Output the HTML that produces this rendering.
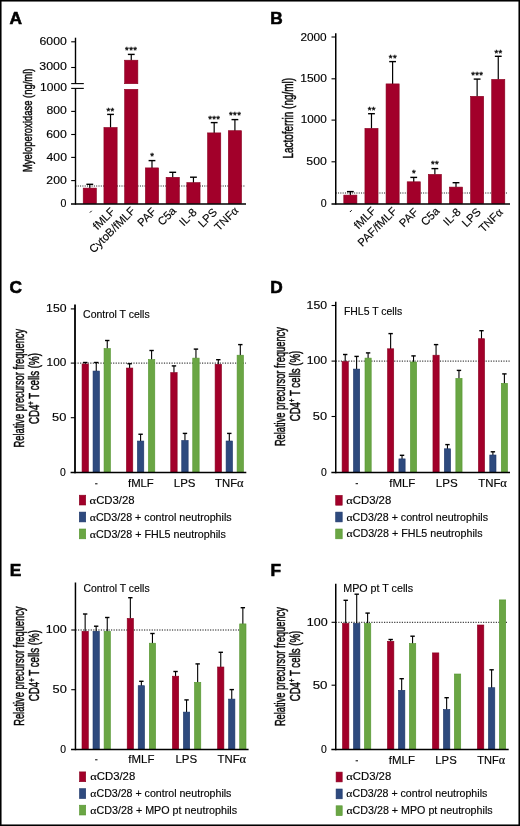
<!DOCTYPE html>
<html><head><meta charset="utf-8"><title>Figure</title>
<style>
html,body{margin:0;padding:0;background:#fff}
svg{display:block;will-change:transform}
text{font-family:"Liberation Sans", sans-serif;fill:#000}
.vt{stroke:#111;stroke-width:0.5px}
.st{stroke:#111;stroke-width:0.15px}
.bd{stroke:#000;stroke-width:0.6px}
</style></head>
<body>
<svg width="520" height="826" viewBox="0 0 520 826">
<rect x="0" y="0" width="520" height="826" fill="#fff"/>
<line x1="75.50" y1="186.00" x2="245.30" y2="186.00" stroke="#111" stroke-width="1.0" stroke-dasharray="1.0 1.3"/>
<line x1="335.75" y1="193.00" x2="508.00" y2="193.00" stroke="#111" stroke-width="1.0" stroke-dasharray="1.0 1.3"/>
<line x1="75.00" y1="363.10" x2="246.00" y2="363.10" stroke="#111" stroke-width="1.0" stroke-dasharray="1.2 1.34"/>
<line x1="335.75" y1="361.10" x2="510.00" y2="361.10" stroke="#111" stroke-width="1.0" stroke-dasharray="1.2 1.34"/>
<line x1="75.45" y1="630.00" x2="246.00" y2="630.00" stroke="#111" stroke-width="1.0" stroke-dasharray="1.2 1.34"/>
<line x1="335.75" y1="622.30" x2="507.00" y2="622.30" stroke="#111" stroke-width="1.0" stroke-dasharray="1.2 1.34"/>
<line x1="71.20" y1="41.80" x2="75.50" y2="41.80" stroke="#000" stroke-width="1.1"/>
<line x1="71.20" y1="67.50" x2="75.50" y2="67.50" stroke="#000" stroke-width="1.1"/>
<line x1="71.20" y1="111.40" x2="75.50" y2="111.40" stroke="#000" stroke-width="1.1"/>
<line x1="71.20" y1="134.50" x2="75.50" y2="134.50" stroke="#000" stroke-width="1.1"/>
<line x1="71.20" y1="157.40" x2="75.50" y2="157.40" stroke="#000" stroke-width="1.1"/>
<line x1="71.20" y1="180.60" x2="75.50" y2="180.60" stroke="#000" stroke-width="1.1"/>
<line x1="71.20" y1="83.60" x2="83.80" y2="83.60" stroke="#000" stroke-width="1.1"/>
<line x1="71.20" y1="88.40" x2="83.80" y2="88.40" stroke="#000" stroke-width="1.1"/>
<line x1="89.80" y1="188.30" x2="89.80" y2="184.30" stroke="#000" stroke-width="1.2"/>
<line x1="86.40" y1="184.30" x2="93.20" y2="184.30" stroke="#000" stroke-width="1.4"/>
<rect x="83.20" y="188.10" width="13.20" height="15.50" fill="#a2002a" stroke="#88001f" stroke-width="0.6"/>
<line x1="110.53" y1="127.70" x2="110.53" y2="114.40" stroke="#000" stroke-width="1.2"/>
<line x1="107.13" y1="114.40" x2="113.93" y2="114.40" stroke="#000" stroke-width="1.4"/>
<rect x="103.93" y="127.50" width="13.20" height="76.10" fill="#a2002a" stroke="#88001f" stroke-width="0.6"/>
<line x1="131.26" y1="60.40" x2="131.26" y2="54.40" stroke="#000" stroke-width="1.2"/>
<line x1="127.86" y1="54.40" x2="134.66" y2="54.40" stroke="#000" stroke-width="1.4"/>
<rect x="124.66" y="60.20" width="13.20" height="23.50" fill="#a2002a" stroke="#88001f" stroke-width="0.6"/>
<rect x="124.66" y="89.30" width="13.20" height="114.30" fill="#a2002a" stroke="#88001f" stroke-width="0.6"/>
<line x1="151.99" y1="168.10" x2="151.99" y2="160.60" stroke="#000" stroke-width="1.2"/>
<line x1="148.59" y1="160.60" x2="155.39" y2="160.60" stroke="#000" stroke-width="1.4"/>
<rect x="145.39" y="167.90" width="13.20" height="35.70" fill="#a2002a" stroke="#88001f" stroke-width="0.6"/>
<line x1="172.72" y1="177.50" x2="172.72" y2="172.30" stroke="#000" stroke-width="1.2"/>
<line x1="169.32" y1="172.30" x2="176.12" y2="172.30" stroke="#000" stroke-width="1.4"/>
<rect x="166.12" y="177.30" width="13.20" height="26.30" fill="#a2002a" stroke="#88001f" stroke-width="0.6"/>
<line x1="193.45" y1="182.80" x2="193.45" y2="177.20" stroke="#000" stroke-width="1.2"/>
<line x1="190.05" y1="177.20" x2="196.85" y2="177.20" stroke="#000" stroke-width="1.4"/>
<rect x="186.85" y="182.60" width="13.20" height="21.00" fill="#a2002a" stroke="#88001f" stroke-width="0.6"/>
<line x1="214.18" y1="133.10" x2="214.18" y2="122.60" stroke="#000" stroke-width="1.2"/>
<line x1="210.78" y1="122.60" x2="217.58" y2="122.60" stroke="#000" stroke-width="1.4"/>
<rect x="207.58" y="132.90" width="13.20" height="70.70" fill="#a2002a" stroke="#88001f" stroke-width="0.6"/>
<line x1="234.91" y1="130.90" x2="234.91" y2="119.60" stroke="#000" stroke-width="1.2"/>
<line x1="231.51" y1="119.60" x2="238.31" y2="119.60" stroke="#000" stroke-width="1.4"/>
<rect x="228.31" y="130.70" width="13.20" height="72.90" fill="#a2002a" stroke="#88001f" stroke-width="0.6"/>
<line x1="331.50" y1="37.00" x2="335.75" y2="37.00" stroke="#000" stroke-width="1.1"/>
<line x1="331.50" y1="78.80" x2="335.75" y2="78.80" stroke="#000" stroke-width="1.1"/>
<line x1="331.50" y1="120.10" x2="335.75" y2="120.10" stroke="#000" stroke-width="1.1"/>
<line x1="331.50" y1="161.80" x2="335.75" y2="161.80" stroke="#000" stroke-width="1.1"/>
<line x1="350.35" y1="195.30" x2="350.35" y2="191.60" stroke="#000" stroke-width="1.2"/>
<line x1="346.95" y1="191.60" x2="353.75" y2="191.60" stroke="#000" stroke-width="1.4"/>
<rect x="343.80" y="195.10" width="13.10" height="8.50" fill="#a2002a" stroke="#88001f" stroke-width="0.6"/>
<line x1="371.48" y1="128.60" x2="371.48" y2="113.70" stroke="#000" stroke-width="1.2"/>
<line x1="368.08" y1="113.70" x2="374.88" y2="113.70" stroke="#000" stroke-width="1.4"/>
<rect x="364.93" y="128.40" width="13.10" height="75.20" fill="#a2002a" stroke="#88001f" stroke-width="0.6"/>
<line x1="392.61" y1="84.10" x2="392.61" y2="61.60" stroke="#000" stroke-width="1.2"/>
<line x1="389.21" y1="61.60" x2="396.01" y2="61.60" stroke="#000" stroke-width="1.4"/>
<rect x="386.06" y="83.90" width="13.10" height="119.70" fill="#a2002a" stroke="#88001f" stroke-width="0.6"/>
<line x1="413.74" y1="182.00" x2="413.74" y2="177.40" stroke="#000" stroke-width="1.2"/>
<line x1="410.34" y1="177.40" x2="417.14" y2="177.40" stroke="#000" stroke-width="1.4"/>
<rect x="407.19" y="181.80" width="13.10" height="21.80" fill="#a2002a" stroke="#88001f" stroke-width="0.6"/>
<line x1="434.87" y1="174.60" x2="434.87" y2="168.60" stroke="#000" stroke-width="1.2"/>
<line x1="431.47" y1="168.60" x2="438.27" y2="168.60" stroke="#000" stroke-width="1.4"/>
<rect x="428.32" y="174.40" width="13.10" height="29.20" fill="#a2002a" stroke="#88001f" stroke-width="0.6"/>
<line x1="456.00" y1="187.30" x2="456.00" y2="182.70" stroke="#000" stroke-width="1.2"/>
<line x1="452.60" y1="182.70" x2="459.40" y2="182.70" stroke="#000" stroke-width="1.4"/>
<rect x="449.45" y="187.10" width="13.10" height="16.50" fill="#a2002a" stroke="#88001f" stroke-width="0.6"/>
<line x1="477.13" y1="96.50" x2="477.13" y2="79.10" stroke="#000" stroke-width="1.2"/>
<line x1="473.73" y1="79.10" x2="480.53" y2="79.10" stroke="#000" stroke-width="1.4"/>
<rect x="470.58" y="96.30" width="13.10" height="107.30" fill="#a2002a" stroke="#88001f" stroke-width="0.6"/>
<line x1="498.26" y1="79.60" x2="498.26" y2="56.30" stroke="#000" stroke-width="1.2"/>
<line x1="494.86" y1="56.30" x2="501.66" y2="56.30" stroke="#000" stroke-width="1.4"/>
<rect x="491.71" y="79.40" width="13.10" height="124.20" fill="#a2002a" stroke="#88001f" stroke-width="0.6"/>
<line x1="70.80" y1="308.90" x2="75.00" y2="308.90" stroke="#000" stroke-width="1.1"/>
<line x1="70.80" y1="363.10" x2="75.00" y2="363.10" stroke="#000" stroke-width="1.1"/>
<line x1="70.80" y1="417.70" x2="75.00" y2="417.70" stroke="#000" stroke-width="1.1"/>
<line x1="85.25" y1="364.25" x2="85.25" y2="362.50" stroke="#000" stroke-width="1.1"/>
<line x1="83.05" y1="362.50" x2="87.45" y2="362.50" stroke="#000" stroke-width="1.4"/>
<rect x="82.05" y="364.05" width="6.40" height="108.15" fill="#a2002a" stroke="#88001f" stroke-width="0.6"/>
<line x1="96.25" y1="371.25" x2="96.25" y2="362.50" stroke="#000" stroke-width="1.1"/>
<line x1="94.05" y1="362.50" x2="98.45" y2="362.50" stroke="#000" stroke-width="1.4"/>
<rect x="93.05" y="371.05" width="6.40" height="101.15" fill="#2e4a7e" stroke="#1c3568" stroke-width="0.6"/>
<line x1="107.25" y1="348.75" x2="107.25" y2="340.50" stroke="#000" stroke-width="1.1"/>
<line x1="105.05" y1="340.50" x2="109.45" y2="340.50" stroke="#000" stroke-width="1.4"/>
<rect x="104.05" y="348.55" width="6.40" height="123.65" fill="#6aa644" stroke="#559530" stroke-width="0.6"/>
<line x1="129.60" y1="368.25" x2="129.60" y2="363.75" stroke="#000" stroke-width="1.1"/>
<line x1="127.40" y1="363.75" x2="131.80" y2="363.75" stroke="#000" stroke-width="1.4"/>
<rect x="126.40" y="368.05" width="6.40" height="104.15" fill="#a2002a" stroke="#88001f" stroke-width="0.6"/>
<line x1="140.60" y1="441.25" x2="140.60" y2="434.25" stroke="#000" stroke-width="1.1"/>
<line x1="138.40" y1="434.25" x2="142.80" y2="434.25" stroke="#000" stroke-width="1.4"/>
<rect x="137.40" y="441.05" width="6.40" height="31.15" fill="#2e4a7e" stroke="#1c3568" stroke-width="0.6"/>
<line x1="151.60" y1="359.75" x2="151.60" y2="350.50" stroke="#000" stroke-width="1.1"/>
<line x1="149.40" y1="350.50" x2="153.80" y2="350.50" stroke="#000" stroke-width="1.4"/>
<rect x="148.40" y="359.55" width="6.40" height="112.65" fill="#6aa644" stroke="#559530" stroke-width="0.6"/>
<line x1="173.95" y1="372.80" x2="173.95" y2="365.90" stroke="#000" stroke-width="1.1"/>
<line x1="171.75" y1="365.90" x2="176.15" y2="365.90" stroke="#000" stroke-width="1.4"/>
<rect x="170.75" y="372.60" width="6.40" height="99.60" fill="#a2002a" stroke="#88001f" stroke-width="0.6"/>
<line x1="184.95" y1="440.70" x2="184.95" y2="433.40" stroke="#000" stroke-width="1.1"/>
<line x1="182.75" y1="433.40" x2="187.15" y2="433.40" stroke="#000" stroke-width="1.4"/>
<rect x="181.75" y="440.50" width="6.40" height="31.70" fill="#2e4a7e" stroke="#1c3568" stroke-width="0.6"/>
<line x1="195.95" y1="358.30" x2="195.95" y2="349.10" stroke="#000" stroke-width="1.1"/>
<line x1="193.75" y1="349.10" x2="198.15" y2="349.10" stroke="#000" stroke-width="1.4"/>
<rect x="192.75" y="358.10" width="6.40" height="114.10" fill="#6aa644" stroke="#559530" stroke-width="0.6"/>
<line x1="218.30" y1="364.50" x2="218.30" y2="359.70" stroke="#000" stroke-width="1.1"/>
<line x1="216.10" y1="359.70" x2="220.50" y2="359.70" stroke="#000" stroke-width="1.4"/>
<rect x="215.10" y="364.30" width="6.40" height="107.90" fill="#a2002a" stroke="#88001f" stroke-width="0.6"/>
<line x1="229.30" y1="441.20" x2="229.30" y2="433.40" stroke="#000" stroke-width="1.1"/>
<line x1="227.10" y1="433.40" x2="231.50" y2="433.40" stroke="#000" stroke-width="1.4"/>
<rect x="226.10" y="441.00" width="6.40" height="31.20" fill="#2e4a7e" stroke="#1c3568" stroke-width="0.6"/>
<line x1="240.30" y1="355.40" x2="240.30" y2="344.60" stroke="#000" stroke-width="1.1"/>
<line x1="238.10" y1="344.60" x2="242.50" y2="344.60" stroke="#000" stroke-width="1.4"/>
<rect x="237.10" y="355.20" width="6.40" height="117.00" fill="#6aa644" stroke="#559530" stroke-width="0.6"/>
<line x1="331.55" y1="305.50" x2="335.75" y2="305.50" stroke="#000" stroke-width="1.1"/>
<line x1="331.55" y1="361.10" x2="335.75" y2="361.10" stroke="#000" stroke-width="1.1"/>
<line x1="331.55" y1="416.50" x2="335.75" y2="416.50" stroke="#000" stroke-width="1.1"/>
<line x1="345.20" y1="361.80" x2="345.20" y2="354.50" stroke="#000" stroke-width="1.1"/>
<line x1="343.00" y1="354.50" x2="347.40" y2="354.50" stroke="#000" stroke-width="1.4"/>
<rect x="342.10" y="361.60" width="6.20" height="110.60" fill="#a2002a" stroke="#88001f" stroke-width="0.6"/>
<line x1="356.60" y1="369.30" x2="356.60" y2="356.40" stroke="#000" stroke-width="1.1"/>
<line x1="354.40" y1="356.40" x2="358.80" y2="356.40" stroke="#000" stroke-width="1.4"/>
<rect x="353.50" y="369.10" width="6.20" height="103.10" fill="#2e4a7e" stroke="#1c3568" stroke-width="0.6"/>
<line x1="368.10" y1="358.30" x2="368.10" y2="352.90" stroke="#000" stroke-width="1.1"/>
<line x1="365.90" y1="352.90" x2="370.30" y2="352.90" stroke="#000" stroke-width="1.4"/>
<rect x="365.00" y="358.10" width="6.20" height="114.10" fill="#6aa644" stroke="#559530" stroke-width="0.6"/>
<line x1="390.63" y1="349.00" x2="390.63" y2="333.60" stroke="#000" stroke-width="1.1"/>
<line x1="388.43" y1="333.60" x2="392.83" y2="333.60" stroke="#000" stroke-width="1.4"/>
<rect x="387.53" y="348.80" width="6.20" height="123.40" fill="#a2002a" stroke="#88001f" stroke-width="0.6"/>
<line x1="402.03" y1="459.10" x2="402.03" y2="455.30" stroke="#000" stroke-width="1.1"/>
<line x1="399.83" y1="455.30" x2="404.23" y2="455.30" stroke="#000" stroke-width="1.4"/>
<rect x="398.93" y="458.90" width="6.20" height="13.30" fill="#2e4a7e" stroke="#1c3568" stroke-width="0.6"/>
<line x1="413.53" y1="362.20" x2="413.53" y2="355.90" stroke="#000" stroke-width="1.1"/>
<line x1="411.33" y1="355.90" x2="415.73" y2="355.90" stroke="#000" stroke-width="1.4"/>
<rect x="410.43" y="362.00" width="6.20" height="110.20" fill="#6aa644" stroke="#559530" stroke-width="0.6"/>
<line x1="436.06" y1="355.40" x2="436.06" y2="344.60" stroke="#000" stroke-width="1.1"/>
<line x1="433.86" y1="344.60" x2="438.26" y2="344.60" stroke="#000" stroke-width="1.4"/>
<rect x="432.96" y="355.20" width="6.20" height="117.00" fill="#a2002a" stroke="#88001f" stroke-width="0.6"/>
<line x1="447.46" y1="449.00" x2="447.46" y2="444.60" stroke="#000" stroke-width="1.1"/>
<line x1="445.26" y1="444.60" x2="449.66" y2="444.60" stroke="#000" stroke-width="1.4"/>
<rect x="444.36" y="448.80" width="6.20" height="23.40" fill="#2e4a7e" stroke="#1c3568" stroke-width="0.6"/>
<line x1="458.96" y1="378.60" x2="458.96" y2="370.40" stroke="#000" stroke-width="1.1"/>
<line x1="456.76" y1="370.40" x2="461.16" y2="370.40" stroke="#000" stroke-width="1.4"/>
<rect x="455.86" y="378.40" width="6.20" height="93.80" fill="#6aa644" stroke="#559530" stroke-width="0.6"/>
<line x1="481.49" y1="338.90" x2="481.49" y2="330.70" stroke="#000" stroke-width="1.1"/>
<line x1="479.29" y1="330.70" x2="483.69" y2="330.70" stroke="#000" stroke-width="1.4"/>
<rect x="478.39" y="338.70" width="6.20" height="133.50" fill="#a2002a" stroke="#88001f" stroke-width="0.6"/>
<line x1="492.89" y1="455.20" x2="492.89" y2="451.80" stroke="#000" stroke-width="1.1"/>
<line x1="490.69" y1="451.80" x2="495.09" y2="451.80" stroke="#000" stroke-width="1.4"/>
<rect x="489.79" y="455.00" width="6.20" height="17.20" fill="#2e4a7e" stroke="#1c3568" stroke-width="0.6"/>
<line x1="504.39" y1="383.50" x2="504.39" y2="373.90" stroke="#000" stroke-width="1.1"/>
<line x1="502.19" y1="373.90" x2="506.59" y2="373.90" stroke="#000" stroke-width="1.4"/>
<rect x="501.29" y="383.30" width="6.20" height="88.90" fill="#6aa644" stroke="#559530" stroke-width="0.6"/>
<line x1="71.25" y1="630.00" x2="75.45" y2="630.00" stroke="#000" stroke-width="1.1"/>
<line x1="71.25" y1="689.70" x2="75.45" y2="689.70" stroke="#000" stroke-width="1.1"/>
<line x1="85.15" y1="631.50" x2="85.15" y2="614.00" stroke="#000" stroke-width="1.1"/>
<line x1="82.95" y1="614.00" x2="87.35" y2="614.00" stroke="#000" stroke-width="1.4"/>
<rect x="82.00" y="631.30" width="6.30" height="117.90" fill="#a2002a" stroke="#88001f" stroke-width="0.6"/>
<line x1="96.15" y1="631.50" x2="96.15" y2="626.20" stroke="#000" stroke-width="1.1"/>
<line x1="93.95" y1="626.20" x2="98.35" y2="626.20" stroke="#000" stroke-width="1.4"/>
<rect x="93.00" y="631.30" width="6.30" height="117.90" fill="#2e4a7e" stroke="#1c3568" stroke-width="0.6"/>
<line x1="107.25" y1="631.50" x2="107.25" y2="617.50" stroke="#000" stroke-width="1.1"/>
<line x1="105.05" y1="617.50" x2="109.45" y2="617.50" stroke="#000" stroke-width="1.4"/>
<rect x="104.10" y="631.30" width="6.30" height="117.90" fill="#6aa644" stroke="#559530" stroke-width="0.6"/>
<line x1="130.35" y1="618.60" x2="130.35" y2="597.70" stroke="#000" stroke-width="1.1"/>
<line x1="128.15" y1="597.70" x2="132.55" y2="597.70" stroke="#000" stroke-width="1.4"/>
<rect x="127.20" y="618.40" width="6.30" height="130.80" fill="#a2002a" stroke="#88001f" stroke-width="0.6"/>
<line x1="141.35" y1="685.90" x2="141.35" y2="681.30" stroke="#000" stroke-width="1.1"/>
<line x1="139.15" y1="681.30" x2="143.55" y2="681.30" stroke="#000" stroke-width="1.4"/>
<rect x="138.20" y="685.70" width="6.30" height="63.50" fill="#2e4a7e" stroke="#1c3568" stroke-width="0.6"/>
<line x1="152.45" y1="643.40" x2="152.45" y2="633.50" stroke="#000" stroke-width="1.1"/>
<line x1="150.25" y1="633.50" x2="154.65" y2="633.50" stroke="#000" stroke-width="1.4"/>
<rect x="149.30" y="643.20" width="6.30" height="106.00" fill="#6aa644" stroke="#559530" stroke-width="0.6"/>
<line x1="175.55" y1="676.40" x2="175.55" y2="671.50" stroke="#000" stroke-width="1.1"/>
<line x1="173.35" y1="671.50" x2="177.75" y2="671.50" stroke="#000" stroke-width="1.4"/>
<rect x="172.40" y="676.20" width="6.30" height="73.00" fill="#a2002a" stroke="#88001f" stroke-width="0.6"/>
<line x1="186.55" y1="712.30" x2="186.55" y2="699.90" stroke="#000" stroke-width="1.1"/>
<line x1="184.35" y1="699.90" x2="188.75" y2="699.90" stroke="#000" stroke-width="1.4"/>
<rect x="183.40" y="712.10" width="6.30" height="37.10" fill="#2e4a7e" stroke="#1c3568" stroke-width="0.6"/>
<line x1="197.65" y1="682.50" x2="197.65" y2="663.90" stroke="#000" stroke-width="1.1"/>
<line x1="195.45" y1="663.90" x2="199.85" y2="663.90" stroke="#000" stroke-width="1.4"/>
<rect x="194.50" y="682.30" width="6.30" height="66.90" fill="#6aa644" stroke="#559530" stroke-width="0.6"/>
<line x1="220.75" y1="667.20" x2="220.75" y2="652.30" stroke="#000" stroke-width="1.1"/>
<line x1="218.55" y1="652.30" x2="222.95" y2="652.30" stroke="#000" stroke-width="1.4"/>
<rect x="217.60" y="667.00" width="6.30" height="82.20" fill="#a2002a" stroke="#88001f" stroke-width="0.6"/>
<line x1="231.75" y1="699.30" x2="231.75" y2="689.60" stroke="#000" stroke-width="1.1"/>
<line x1="229.55" y1="689.60" x2="233.95" y2="689.60" stroke="#000" stroke-width="1.4"/>
<rect x="228.60" y="699.10" width="6.30" height="50.10" fill="#2e4a7e" stroke="#1c3568" stroke-width="0.6"/>
<line x1="242.85" y1="624.10" x2="242.85" y2="607.70" stroke="#000" stroke-width="1.1"/>
<line x1="240.65" y1="607.70" x2="245.05" y2="607.70" stroke="#000" stroke-width="1.4"/>
<rect x="239.70" y="623.90" width="6.30" height="125.30" fill="#6aa644" stroke="#559530" stroke-width="0.6"/>
<line x1="331.55" y1="622.30" x2="335.75" y2="622.30" stroke="#000" stroke-width="1.1"/>
<line x1="331.55" y1="685.20" x2="335.75" y2="685.20" stroke="#000" stroke-width="1.1"/>
<line x1="345.70" y1="623.60" x2="345.70" y2="600.30" stroke="#000" stroke-width="1.1"/>
<line x1="343.50" y1="600.30" x2="347.90" y2="600.30" stroke="#000" stroke-width="1.4"/>
<rect x="342.50" y="623.40" width="6.40" height="125.80" fill="#a2002a" stroke="#88001f" stroke-width="0.6"/>
<line x1="356.70" y1="623.60" x2="356.70" y2="594.20" stroke="#000" stroke-width="1.1"/>
<line x1="354.50" y1="594.20" x2="358.90" y2="594.20" stroke="#000" stroke-width="1.4"/>
<rect x="353.50" y="623.40" width="6.40" height="125.80" fill="#2e4a7e" stroke="#1c3568" stroke-width="0.6"/>
<line x1="367.60" y1="623.60" x2="367.60" y2="613.10" stroke="#000" stroke-width="1.1"/>
<line x1="365.40" y1="613.10" x2="369.80" y2="613.10" stroke="#000" stroke-width="1.4"/>
<rect x="364.40" y="623.40" width="6.40" height="125.80" fill="#6aa644" stroke="#559530" stroke-width="0.6"/>
<line x1="390.67" y1="641.50" x2="390.67" y2="639.50" stroke="#000" stroke-width="1.1"/>
<line x1="388.47" y1="639.50" x2="392.87" y2="639.50" stroke="#000" stroke-width="1.4"/>
<rect x="387.47" y="641.30" width="6.40" height="107.90" fill="#a2002a" stroke="#88001f" stroke-width="0.6"/>
<line x1="401.67" y1="690.50" x2="401.67" y2="678.70" stroke="#000" stroke-width="1.1"/>
<line x1="399.47" y1="678.70" x2="403.87" y2="678.70" stroke="#000" stroke-width="1.4"/>
<rect x="398.47" y="690.30" width="6.40" height="58.90" fill="#2e4a7e" stroke="#1c3568" stroke-width="0.6"/>
<line x1="412.57" y1="643.70" x2="412.57" y2="636.20" stroke="#000" stroke-width="1.1"/>
<line x1="410.37" y1="636.20" x2="414.77" y2="636.20" stroke="#000" stroke-width="1.4"/>
<rect x="409.37" y="643.50" width="6.40" height="105.70" fill="#6aa644" stroke="#559530" stroke-width="0.6"/>
<rect x="432.44" y="652.90" width="6.40" height="96.30" fill="#a2002a" stroke="#88001f" stroke-width="0.6"/>
<line x1="446.64" y1="709.70" x2="446.64" y2="697.70" stroke="#000" stroke-width="1.1"/>
<line x1="444.44" y1="697.70" x2="448.84" y2="697.70" stroke="#000" stroke-width="1.4"/>
<rect x="443.44" y="709.50" width="6.40" height="39.70" fill="#2e4a7e" stroke="#1c3568" stroke-width="0.6"/>
<rect x="454.34" y="674.00" width="6.40" height="75.20" fill="#6aa644" stroke="#559530" stroke-width="0.6"/>
<rect x="477.41" y="625.00" width="6.40" height="124.20" fill="#a2002a" stroke="#88001f" stroke-width="0.6"/>
<line x1="491.61" y1="687.90" x2="491.61" y2="669.80" stroke="#000" stroke-width="1.1"/>
<line x1="489.41" y1="669.80" x2="493.81" y2="669.80" stroke="#000" stroke-width="1.4"/>
<rect x="488.41" y="687.70" width="6.40" height="61.50" fill="#2e4a7e" stroke="#1c3568" stroke-width="0.6"/>
<rect x="499.31" y="599.90" width="6.40" height="149.30" fill="#6aa644" stroke="#559530" stroke-width="0.6"/>
<rect x="79.30" y="495.20" width="6.40" height="9.80" fill="#a2002a" stroke="#88001f" stroke-width="0.6"/>
<rect x="79.30" y="512.10" width="6.40" height="9.80" fill="#2e4a7e" stroke="#1c3568" stroke-width="0.6"/>
<rect x="79.30" y="529.00" width="6.40" height="9.80" fill="#6aa644" stroke="#559530" stroke-width="0.6"/>
<rect x="335.70" y="495.40" width="6.50" height="9.80" fill="#a2002a" stroke="#88001f" stroke-width="0.6"/>
<rect x="335.70" y="512.10" width="6.50" height="9.80" fill="#2e4a7e" stroke="#1c3568" stroke-width="0.6"/>
<rect x="335.70" y="529.00" width="6.50" height="9.80" fill="#6aa644" stroke="#559530" stroke-width="0.6"/>
<rect x="79.50" y="771.90" width="6.20" height="9.80" fill="#a2002a" stroke="#88001f" stroke-width="0.6"/>
<rect x="79.50" y="788.70" width="6.20" height="9.80" fill="#2e4a7e" stroke="#1c3568" stroke-width="0.6"/>
<rect x="79.50" y="805.20" width="6.20" height="9.80" fill="#6aa644" stroke="#559530" stroke-width="0.6"/>
<rect x="336.10" y="772.10" width="6.10" height="9.80" fill="#a2002a" stroke="#88001f" stroke-width="0.6"/>
<rect x="336.10" y="789.00" width="6.10" height="9.80" fill="#2e4a7e" stroke="#1c3568" stroke-width="0.6"/>
<rect x="336.10" y="805.80" width="6.10" height="9.80" fill="#6aa644" stroke="#559530" stroke-width="0.6"/>
<line x1="95.10" y1="483.80" x2="97.50" y2="483.80" stroke="#000" stroke-width="1.0"/>
<line x1="355.60" y1="483.70" x2="358.00" y2="483.70" stroke="#000" stroke-width="1.0"/>
<line x1="95.10" y1="759.80" x2="97.50" y2="759.80" stroke="#000" stroke-width="1.0"/>
<line x1="355.60" y1="760.80" x2="358.00" y2="760.80" stroke="#000" stroke-width="1.0"/>
<line x1="89.90" y1="212.60" x2="91.70" y2="210.80" stroke="#000" stroke-width="1.0"/>
<line x1="349.90" y1="212.00" x2="351.70" y2="210.20" stroke="#000" stroke-width="1.0"/>
<text x="108.25" y="113.70" font-size="9.5" text-anchor="middle" style="stroke:#111;stroke-width:0.4px">*</text>
<text x="112.35" y="113.70" font-size="9.5" text-anchor="middle" style="stroke:#111;stroke-width:0.4px">*</text>
<text x="126.90" y="53.30" font-size="9.5" text-anchor="middle" style="stroke:#111;stroke-width:0.4px">*</text>
<text x="131.00" y="53.30" font-size="9.5" text-anchor="middle" style="stroke:#111;stroke-width:0.4px">*</text>
<text x="135.10" y="53.30" font-size="9.5" text-anchor="middle" style="stroke:#111;stroke-width:0.4px">*</text>
<text x="152.00" y="159.40" font-size="9.5" text-anchor="middle" style="stroke:#111;stroke-width:0.4px">*</text>
<text x="210.00" y="121.70" font-size="9.5" text-anchor="middle" style="stroke:#111;stroke-width:0.4px">*</text>
<text x="214.10" y="121.70" font-size="9.5" text-anchor="middle" style="stroke:#111;stroke-width:0.4px">*</text>
<text x="218.20" y="121.70" font-size="9.5" text-anchor="middle" style="stroke:#111;stroke-width:0.4px">*</text>
<text x="230.80" y="118.40" font-size="9.5" text-anchor="middle" style="stroke:#111;stroke-width:0.4px">*</text>
<text x="234.90" y="118.40" font-size="9.5" text-anchor="middle" style="stroke:#111;stroke-width:0.4px">*</text>
<text x="239.00" y="118.40" font-size="9.5" text-anchor="middle" style="stroke:#111;stroke-width:0.4px">*</text>
<text x="369.55" y="112.70" font-size="9.5" text-anchor="middle" style="stroke:#111;stroke-width:0.4px">*</text>
<text x="373.65" y="112.70" font-size="9.5" text-anchor="middle" style="stroke:#111;stroke-width:0.4px">*</text>
<text x="390.65" y="60.80" font-size="9.5" text-anchor="middle" style="stroke:#111;stroke-width:0.4px">*</text>
<text x="394.75" y="60.80" font-size="9.5" text-anchor="middle" style="stroke:#111;stroke-width:0.4px">*</text>
<text x="413.80" y="176.30" font-size="9.5" text-anchor="middle" style="stroke:#111;stroke-width:0.4px">*</text>
<text x="432.85" y="167.40" font-size="9.5" text-anchor="middle" style="stroke:#111;stroke-width:0.4px">*</text>
<text x="436.95" y="167.40" font-size="9.5" text-anchor="middle" style="stroke:#111;stroke-width:0.4px">*</text>
<text x="473.00" y="78.20" font-size="9.5" text-anchor="middle" style="stroke:#111;stroke-width:0.4px">*</text>
<text x="477.10" y="78.20" font-size="9.5" text-anchor="middle" style="stroke:#111;stroke-width:0.4px">*</text>
<text x="481.20" y="78.20" font-size="9.5" text-anchor="middle" style="stroke:#111;stroke-width:0.4px">*</text>
<text x="496.25" y="55.70" font-size="9.5" text-anchor="middle" style="stroke:#111;stroke-width:0.4px">*</text>
<text x="500.35" y="55.70" font-size="9.5" text-anchor="middle" style="stroke:#111;stroke-width:0.4px">*</text>
<line x1="75.50" y1="37.70" x2="75.50" y2="83.60" stroke="#000" stroke-width="1.4"/>
<line x1="75.50" y1="88.40" x2="75.50" y2="204.60" stroke="#000" stroke-width="1.4"/>
<line x1="71.00" y1="203.90" x2="246.00" y2="203.90" stroke="#000" stroke-width="1.5"/>
<line x1="335.75" y1="33.20" x2="335.75" y2="204.60" stroke="#000" stroke-width="1.5"/>
<line x1="331.50" y1="203.90" x2="510.00" y2="203.90" stroke="#000" stroke-width="1.5"/>
<line x1="75.00" y1="304.60" x2="75.00" y2="473.20" stroke="#000" stroke-width="1.8"/>
<line x1="70.60" y1="472.50" x2="246.30" y2="472.50" stroke="#000" stroke-width="1.6"/>
<line x1="335.75" y1="301.70" x2="335.75" y2="473.20" stroke="#000" stroke-width="1.5"/>
<line x1="331.35" y1="472.50" x2="510.00" y2="472.50" stroke="#000" stroke-width="1.6"/>
<line x1="75.45" y1="582.50" x2="75.45" y2="750.20" stroke="#000" stroke-width="1.5"/>
<line x1="71.05" y1="749.50" x2="248.60" y2="749.50" stroke="#000" stroke-width="1.6"/>
<line x1="335.75" y1="583.80" x2="335.75" y2="750.20" stroke="#000" stroke-width="1.5"/>
<line x1="331.35" y1="749.50" x2="508.70" y2="749.50" stroke="#000" stroke-width="1.6"/>
<text x="9.44" y="23.50" font-size="17.3" font-weight="bold" class="bd">A</text>
<text x="270.16" y="23.90" font-size="17.3" font-weight="bold" class="bd">B</text>
<text x="9.53" y="293.00" font-size="17.3" font-weight="bold" class="bd">C</text>
<text x="270.27" y="293.00" font-size="17.3" font-weight="bold" class="bd">D</text>
<text x="9.80" y="575.70" font-size="17.3" font-weight="bold" class="bd">E</text>
<text x="270.47" y="575.70" font-size="17.3" font-weight="bold" class="bd">F</text>
<text x="39.56" y="44.70" font-size="10.6" class="st" textLength="27.21" lengthAdjust="spacingAndGlyphs">6000</text>
<text x="39.34" y="70.40" font-size="10.6" class="st" textLength="27.51" lengthAdjust="spacingAndGlyphs">3000</text>
<text x="40.12" y="91.10" font-size="10.6" class="st" textLength="26.81" lengthAdjust="spacingAndGlyphs">1000</text>
<text x="46.41" y="113.90" font-size="10.6" class="st" textLength="20.34" lengthAdjust="spacingAndGlyphs">800</text>
<text x="46.26" y="137.60" font-size="10.6" class="st" textLength="20.48" lengthAdjust="spacingAndGlyphs">600</text>
<text x="46.62" y="160.70" font-size="10.6" class="st" textLength="20.31" lengthAdjust="spacingAndGlyphs">400</text>
<text x="46.36" y="184.10" font-size="10.6" class="st" textLength="20.44" lengthAdjust="spacingAndGlyphs">200</text>
<text x="60.58" y="207.20" font-size="10.6" class="st">0</text>
<text x="300.41" y="40.50" font-size="10.6" class="st" textLength="26.27" lengthAdjust="spacingAndGlyphs">2000</text>
<text x="300.27" y="82.10" font-size="10.6" class="st" textLength="26.68" lengthAdjust="spacingAndGlyphs">1500</text>
<text x="300.74" y="123.40" font-size="10.6" class="st" textLength="26.09" lengthAdjust="spacingAndGlyphs">1000</text>
<text x="306.33" y="165.10" font-size="10.6" class="st" textLength="20.50" lengthAdjust="spacingAndGlyphs">500</text>
<text x="320.78" y="206.60" font-size="10.6" class="st">0</text>
<text x="46.11" y="312.10" font-size="10.4" class="st" textLength="20.45" lengthAdjust="spacingAndGlyphs">150</text>
<text x="46.61" y="366.40" font-size="10.4" class="st" textLength="19.69" lengthAdjust="spacingAndGlyphs">100</text>
<text x="52.02" y="421.00" font-size="10.4" class="st" textLength="14.27" lengthAdjust="spacingAndGlyphs">50</text>
<text x="60.09" y="475.80" font-size="10.4" class="st">0</text>
<text x="306.61" y="308.80" font-size="10.4" class="st" textLength="20.45" lengthAdjust="spacingAndGlyphs">150</text>
<text x="306.71" y="364.40" font-size="10.4" class="st" textLength="20.45" lengthAdjust="spacingAndGlyphs">100</text>
<text x="312.81" y="419.80" font-size="10.4" class="st" textLength="14.21" lengthAdjust="spacingAndGlyphs">50</text>
<text x="320.91" y="475.60" font-size="10.4" class="st">0</text>
<text x="45.82" y="633.30" font-size="10.4" class="st" textLength="20.87" lengthAdjust="spacingAndGlyphs">100</text>
<text x="52.61" y="693.10" font-size="10.4" class="st" textLength="14.21" lengthAdjust="spacingAndGlyphs">50</text>
<text x="60.36" y="752.70" font-size="10.4" class="st">0</text>
<text x="306.82" y="625.60" font-size="10.4" class="st" textLength="20.87" lengthAdjust="spacingAndGlyphs">100</text>
<text x="312.68" y="688.50" font-size="10.4" class="st" textLength="14.80" lengthAdjust="spacingAndGlyphs">50</text>
<text x="321.11" y="752.80" font-size="10.4" class="st">0</text>
<text x="83.07" y="317.70" font-size="10.4" class="st" textLength="66.61" lengthAdjust="spacingAndGlyphs">Control T cells</text>
<text x="343.98" y="314.50" font-size="10.4" class="st" textLength="58.16" lengthAdjust="spacingAndGlyphs">FHL5 T cells</text>
<text x="83.55" y="591.60" font-size="10.4" class="st" textLength="66.06" lengthAdjust="spacingAndGlyphs">Control T cells</text>
<text x="343.24" y="591.50" font-size="10.4" class="st" textLength="69.79" lengthAdjust="spacingAndGlyphs">MPO pt T cells</text>
<text x="127.99" y="486.60" font-size="10.6" class="st" textLength="25.80" lengthAdjust="spacingAndGlyphs">fMLF</text>
<text x="173.80" y="486.60" font-size="10.6" class="st" textLength="21.72" lengthAdjust="spacingAndGlyphs">LPS</text>
<text x="215.12" y="486.60" font-size="10.6" class="st" textLength="28.52" lengthAdjust="spacingAndGlyphs">TNF<tspan font-family="Liberation Serif" font-size="1.1em">&#945;</tspan></text>
<text x="389.28" y="486.60" font-size="10.6" class="st" textLength="26.07" lengthAdjust="spacingAndGlyphs">fMLF</text>
<text x="435.89" y="486.60" font-size="10.6" class="st" textLength="21.90" lengthAdjust="spacingAndGlyphs">LPS</text>
<text x="478.21" y="486.60" font-size="10.6" class="st" textLength="28.73" lengthAdjust="spacingAndGlyphs">TNF<tspan font-family="Liberation Serif" font-size="1.1em">&#945;</tspan></text>
<text x="128.38" y="763.30" font-size="10.6" class="st" textLength="26.07" lengthAdjust="spacingAndGlyphs">fMLF</text>
<text x="175.45" y="763.30" font-size="10.6" class="st" textLength="21.75" lengthAdjust="spacingAndGlyphs">LPS</text>
<text x="217.62" y="763.30" font-size="10.6" class="st" textLength="28.52" lengthAdjust="spacingAndGlyphs">TNF<tspan font-family="Liberation Serif" font-size="1.1em">&#945;</tspan></text>
<text x="388.88" y="763.90" font-size="10.6" class="st" textLength="26.07" lengthAdjust="spacingAndGlyphs">fMLF</text>
<text x="435.26" y="763.90" font-size="10.6" class="st" textLength="21.46" lengthAdjust="spacingAndGlyphs">LPS</text>
<text x="477.23" y="763.90" font-size="10.6" class="st" textLength="27.79" lengthAdjust="spacingAndGlyphs">TNF<tspan font-family="Liberation Serif" font-size="1.1em">&#945;</tspan></text>
<text x="89.58" y="503.90" font-size="10.2" class="st" textLength="45.07" lengthAdjust="spacingAndGlyphs"><tspan font-family="Liberation Serif" font-size="1.1em">&#945;</tspan>CD3/28</text>
<text x="89.72" y="520.70" font-size="10.2" class="st" textLength="141.93" lengthAdjust="spacingAndGlyphs"><tspan font-family="Liberation Serif" font-size="1.1em">&#945;</tspan>CD3/28 + control neutrophils</text>
<text x="89.82" y="537.50" font-size="10.2" class="st" textLength="135.94" lengthAdjust="spacingAndGlyphs"><tspan font-family="Liberation Serif" font-size="1.1em">&#945;</tspan>CD3/28 + FHL5 neutrophils</text>
<text x="346.25" y="503.60" font-size="10.2" class="st" textLength="44.95" lengthAdjust="spacingAndGlyphs"><tspan font-family="Liberation Serif" font-size="1.1em">&#945;</tspan>CD3/28</text>
<text x="346.40" y="520.50" font-size="10.2" class="st" textLength="141.57" lengthAdjust="spacingAndGlyphs"><tspan font-family="Liberation Serif" font-size="1.1em">&#945;</tspan>CD3/28 + control neutrophils</text>
<text x="346.57" y="537.40" font-size="10.2" class="st" textLength="135.97" lengthAdjust="spacingAndGlyphs"><tspan font-family="Liberation Serif" font-size="1.1em">&#945;</tspan>CD3/28 + FHL5 neutrophils</text>
<text x="90.18" y="780.10" font-size="10.2" class="st" textLength="45.07" lengthAdjust="spacingAndGlyphs"><tspan font-family="Liberation Serif" font-size="1.1em">&#945;</tspan>CD3/28</text>
<text x="90.34" y="797.00" font-size="10.2" class="st" textLength="141.12" lengthAdjust="spacingAndGlyphs"><tspan font-family="Liberation Serif" font-size="1.1em">&#945;</tspan>CD3/28 + control neutrophils</text>
<text x="90.34" y="813.80" font-size="10.2" class="st" textLength="146.71" lengthAdjust="spacingAndGlyphs"><tspan font-family="Liberation Serif" font-size="1.1em">&#945;</tspan>CD3/28 + MPO pt neutrophils</text>
<text x="346.25" y="780.30" font-size="10.2" class="st" textLength="44.95" lengthAdjust="spacingAndGlyphs"><tspan font-family="Liberation Serif" font-size="1.1em">&#945;</tspan>CD3/28</text>
<text x="346.34" y="797.20" font-size="10.2" class="st" textLength="140.98" lengthAdjust="spacingAndGlyphs"><tspan font-family="Liberation Serif" font-size="1.1em">&#945;</tspan>CD3/28 + control neutrophils</text>
<text x="346.41" y="814.00" font-size="10.2" class="st" textLength="146.22" lengthAdjust="spacingAndGlyphs"><tspan font-family="Liberation Serif" font-size="1.1em">&#945;</tspan>CD3/28 + MPO pt neutrophils</text>
<text transform="translate(32.30,172.06) rotate(-90)" font-size="13.5" class="vt" textLength="103.51" lengthAdjust="spacingAndGlyphs">Myeloperoxidase (ng/ml)</text>
<text transform="translate(293.00,158.56) rotate(-90)" font-size="14.2" class="vt" textLength="80.56" lengthAdjust="spacingAndGlyphs">Lactoferrin (ng/ml)</text>
<text transform="translate(24.00,447.40) rotate(-90)" font-size="14.6" class="vt" textLength="118.50" lengthAdjust="spacingAndGlyphs">Relative precursor frequency</text>
<text transform="translate(39.10,424.09) rotate(-90)" font-size="14.6" class="vt" textLength="71.02" lengthAdjust="spacingAndGlyphs">CD4<tspan font-size="0.6em" dy="-0.55em">+</tspan><tspan dy="0.33em"> T cells (%)</tspan></text>
<text transform="translate(284.90,446.12) rotate(-90)" font-size="14.6" class="vt" textLength="119.04" lengthAdjust="spacingAndGlyphs">Relative precursor frequency</text>
<text transform="translate(300.00,421.32) rotate(-90)" font-size="14.6" class="vt" textLength="70.64" lengthAdjust="spacingAndGlyphs">CD4<tspan font-size="0.6em" dy="-0.55em">+</tspan><tspan dy="0.33em"> T cells (%)</tspan></text>
<text transform="translate(24.40,725.81) rotate(-90)" font-size="14.6" class="vt" textLength="119.35" lengthAdjust="spacingAndGlyphs">Relative precursor frequency</text>
<text transform="translate(39.40,701.33) rotate(-90)" font-size="14.6" class="vt" textLength="71.39" lengthAdjust="spacingAndGlyphs">CD4<tspan font-size="0.6em" dy="-0.55em">+</tspan><tspan dy="0.33em"> T cells (%)</tspan></text>
<text transform="translate(284.90,726.12) rotate(-90)" font-size="14.6" class="vt" textLength="119.04" lengthAdjust="spacingAndGlyphs">Relative precursor frequency</text>
<text transform="translate(300.10,701.32) rotate(-90)" font-size="14.6" class="vt" textLength="70.64" lengthAdjust="spacingAndGlyphs">CD4<tspan font-size="0.6em" dy="-0.55em">+</tspan><tspan dy="0.33em"> T cells (%)</tspan></text>
<text transform="translate(115.67,212.33) rotate(-45)" text-anchor="end" class="st" font-size="11.3">fMLF</text>
<text transform="translate(135.87,211.63) rotate(-45)" text-anchor="end" class="st" font-size="11.3">CytoB/fMLF</text>
<text transform="translate(156.97,212.33) rotate(-45)" text-anchor="end" class="st" font-size="11.3">PAF</text>
<text transform="translate(176.81,211.59) rotate(-45)" text-anchor="end" class="st" font-size="11.3">C5a</text>
<text transform="translate(197.47,213.03) rotate(-45)" text-anchor="end" class="st" font-size="11.3">IL-8</text>
<text transform="translate(217.78,212.94) rotate(-45)" text-anchor="end" class="st" font-size="11.3">LPS</text>
<text transform="translate(239.12,211.33) rotate(-45)" text-anchor="end" class="st" font-size="11.3">TNF<tspan font-family="Liberation Serif" font-size="1.1em">&#945;</tspan></text>
<text transform="translate(376.67,211.53) rotate(-45)" text-anchor="end" class="st" font-size="11.3">fMLF</text>
<text transform="translate(397.57,211.83) rotate(-45)" text-anchor="end" class="st" font-size="11.3">PAF/fMLF</text>
<text transform="translate(418.77,212.83) rotate(-45)" text-anchor="end" class="st" font-size="11.3">PAF</text>
<text transform="translate(440.11,211.79) rotate(-45)" text-anchor="end" class="st" font-size="11.3">C5a</text>
<text transform="translate(461.47,212.73) rotate(-45)" text-anchor="end" class="st" font-size="11.3">IL-8</text>
<text transform="translate(481.68,212.64) rotate(-45)" text-anchor="end" class="st" font-size="11.3">LPS</text>
<text transform="translate(503.52,212.93) rotate(-45)" text-anchor="end" class="st" font-size="11.3">TNF<tspan font-family="Liberation Serif" font-size="1.1em">&#945;</tspan></text>
<rect x="0.75" y="0.75" width="518.5" height="824.5" fill="none" stroke="#000" stroke-width="1.6"/>
</svg>
</body></html>
